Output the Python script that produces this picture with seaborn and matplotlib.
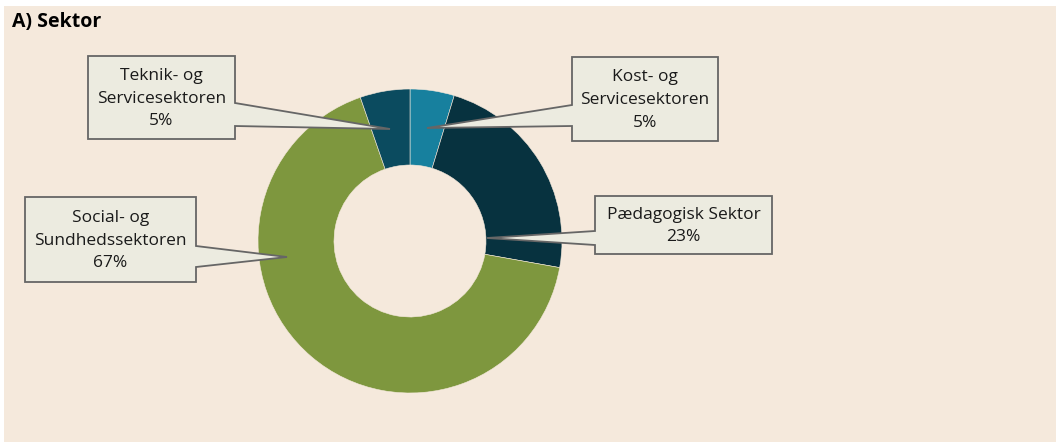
import matplotlib
matplotlib.use("Agg")
import matplotlib.pyplot as plt
from matplotlib.patches import Rectangle, Polygon
import seaborn as sns

# ---- data ----
categories = ["Kost- og\nServicesektoren", "Pædagogisk Sektor", "Social- og\nSundhedssektoren", "Teknik- og\nServicesektoren"]
shares = [4.7, 23.1, 66.9, 5.3]
colors = ["#17809e", "#07323f", "#7e973e", "#0b4b5f"]
title = "A) Sektor"

sns.set_theme(style="white")
plt.rcParams["font.family"] = ["Open Sans", "DejaVu Sans"]

W, H = 1058, 443
fig = plt.figure(figsize=(W / 100, H / 100), dpi=100, facecolor="white")

# background panel axes (pixel coordinates, y down)
bg = fig.add_axes([0, 0, 1, 1], zorder=0)
bg.set_xlim(0, W)
bg.set_ylim(H, 0)
bg.axis("off")
bg.add_patch(Rectangle((4, 6), 1052, 436, facecolor="#f5e9dc", edgecolor="none"))
bg.text(12, 22, title, fontsize=14, fontweight="bold", color="black", ha="left", va="center")

# donut
cx, cy, R = 410, 241, 152
pax = fig.add_axes([(cx - R) / W, (H - cy - R) / H, 2 * R / W, 2 * R / H], zorder=1)
pax.patch.set_alpha(0)
pal = sns.color_palette(colors)
pax.pie(shares, colors=pal, startangle=90, counterclock=False, radius=1,
        wedgeprops=dict(width=0.5, edgecolor="#f5e9dc", linewidth=0.4, alpha=1))
pax.set_xlim(-1, 1)
pax.set_ylim(-1, 1)
pax.axis("off")

# callouts (pixel coordinates)
ov = fig.add_axes([0, 0, 1, 1], zorder=2)
ov.set_xlim(0, W)
ov.set_ylim(H, 0)
ov.axis("off")

def pct(v):
    return f"{round(v):d}%"

# box (x0, y0, x1, y1), side of pointer, pointer base (ya, yb), tip
callouts = [
    (0, (572, 57, 718, 141), "left", (105, 126), (427, 128)),
    (1, (595, 196, 772, 254), "left", (231, 245), (487, 238)),
    (2, (25, 197, 196, 282), "right", (246, 267), (287, 257)),
    (3, (88, 56, 235, 139), "right", (103, 126), (390, 129)),
]
for idx, (x0, y0, x1, y1), side, (ya, yb), tip in callouts:
    if side == "right":
        verts = [(x0, y0), (x1, y0), (x1, ya), tip, (x1, yb), (x1, y1), (x0, y1)]
    else:
        verts = [(x0, y0), (x1, y0), (x1, y1), (x0, y1), (x0, yb), tip, (x0, ya)]
    ov.add_patch(Polygon(verts, closed=True, facecolor="#ecebe0", edgecolor="#666666",
                         linewidth=1.3, joinstyle="miter"))
    ov.text((x0 + x1) / 2, (y0 + y1) / 2 + 1, f"{categories[idx]}\n{pct(shares[idx])}",
            ha="center", va="center", fontsize=12.5, color="#1a1a1a", linespacing=1.55)

fig.savefig("out.png", dpi=100, facecolor="white")
